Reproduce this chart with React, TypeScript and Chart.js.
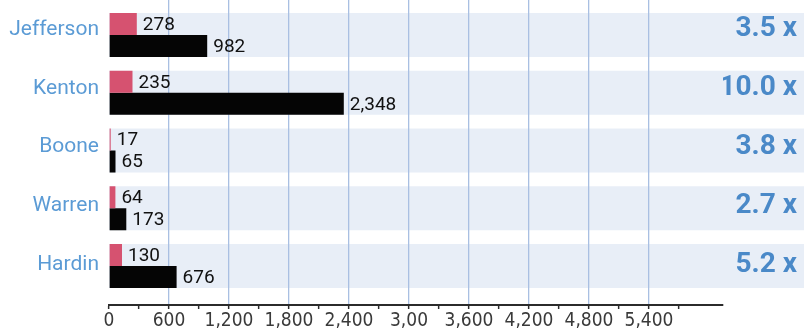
import { useEffect, useRef } from 'react';
import { Chart, registerables } from 'chart.js';

Chart.register(...registerables);

const counties = ['Jefferson', 'Kenton', 'Boone', 'Warren', 'Hardin'];
const pinkValues = [278, 235, 17, 64, 130];
const blackValues = [982, 2348, 65, 173, 676];
const ratioLabels = ['3.5 x', '10.0 x', '3.8 x', '2.7 x', '5.2 x'];
const xTickValues = [0, 600, 1200, 1800, 2400, 3000, 3600, 4200, 4800, 5400];
const xTickLabels = ['0', '600', '1,200', '1,800', '2,400', '3,00', '3,600', '4,200', '4,800', '5,400'];
const xMinorTickValues = [300, 900, 1500, 2100, 2700, 3300, 3900, 4500, 5100, 5700];
const xMax = 6140;

const PINK = '#d65270';
const BLACK = '#050505';
const BAND = '#e8eef7';
const GRID = '#a9bfe2';
const AXIS = '#2b2b2b';
const COUNTY_COLOR = '#5b9bd5';
const RATIO_COLOR = '#4a89c8';

const bandPlugin = {
  id: 'bands',
  beforeDraw(chart: any) {
    const { ctx } = chart;
    const m0 = chart.getDatasetMeta(0);
    const m1 = chart.getDatasetMeta(1);
    const left = chart.scales.x.left;
    ctx.save();
    ctx.fillStyle = BAND;
    m0.data.forEach((bar: any, i: number) => {
      const p0 = bar.getProps(['y', 'height'], true);
      const p1 = m1.data[i].getProps(['y', 'height'], true);
      const top = p0.y - p0.height / 2;
      const bottom = p1.y + p1.height / 2;
      ctx.fillRect(left, top, chart.width - left, bottom - top);
    });
    ctx.restore();
  },
};

const valueLabelPlugin = {
  id: 'valueLabels',
  afterDatasetsDraw(chart: any) {
    const { ctx } = chart;
    ctx.save();
    ctx.font = '19px Roboto, sans-serif';
    ctx.fillStyle = '#111111';
    ctx.textAlign = 'left';
    ctx.textBaseline = 'middle';
    chart.data.datasets.forEach((ds: any, di: number) => {
      const meta = chart.getDatasetMeta(di);
      meta.data.forEach((el: any, i: number) => {
        const p = el.getProps(['x', 'y'], true);
        const v = ds.data[i].x as number;
        ctx.fillText(v.toLocaleString('en-US'), p.x + 6, p.y + 1);
      });
    });
    ctx.restore();
  },
};

const indexTicks = (s: any) => {
  s.ticks = counties.map((_, i) => ({ value: i }));
};

const noPad = (s: any) => {
  s.paddingTop = 0;
  s.paddingBottom = 0;
  s.paddingLeft = 0;
  s.paddingRight = 0;
};

export default function App() {
  const ref = useRef<HTMLCanvasElement | null>(null);

  useEffect(() => {
    if (!ref.current) return;
    const chart = new Chart(ref.current, {
      type: 'bar',
      data: {
        datasets: [
          {
            label: 'Series A',
            data: pinkValues.map((v, i) => ({ x: v, y: i })),
            backgroundColor: PINK,
            yAxisID: 'y',
            categoryPercentage: 0.762,
            barPercentage: 1,
          },
          {
            label: 'Series B',
            data: blackValues.map((v, i) => ({ x: v, y: i })),
            backgroundColor: BLACK,
            yAxisID: 'y',
            categoryPercentage: 0.762,
            barPercentage: 1,
          },
        ],
      } as any,
      options: {
        indexAxis: 'y',
        animation: false,
        responsive: false,
        layout: { padding: { left: 0, right: 7, top: 0, bottom: 0 } },
        plugins: { legend: { display: false }, tooltip: { enabled: false } },
        scales: {
          x: {
            type: 'linear',
            position: 'bottom',
            min: 0,
            max: xMax,
            offset: false,
            afterBuildTicks: (s: any) => {
              s.ticks = [...xTickValues, ...xMinorTickValues]
                .sort((a, b) => a - b)
                .map((v) => ({ value: v }));
            },
            afterFit: (s: any) => {
              s.height = 26;
              noPad(s);
            },
            ticks: {
              autoSkip: false,
              maxRotation: 0,
              padding: 1,
              color: '#3a3a3a',
              font: { family: "'Liberation Sans Narrow', 'DejaVu Sans Condensed', sans-serif", size: 19 },
              callback: (v: any) => {
                const k = xTickValues.indexOf(Number(v));
                return k >= 0 ? xTickLabels[k] : '';
              },
            },
            grid: {
              color: (ctx: any) =>
                ctx.tick && ctx.tick.value > 0 && xTickValues.includes(ctx.tick.value) ? GRID : 'rgba(0,0,0,0)',
              lineWidth: 1.3,
              tickLength: 4,
              tickColor: AXIS,
              tickWidth: 1.5,
            },
            border: { display: true, color: AXIS, width: 2 },
          },
          y: {
            type: 'linear',
            display: false,
            offset: false,
            reverse: true,
            bounds: 'data',
            min: -0.606,
            max: 4.675,
            afterBuildTicks: indexTicks,
            afterFit: noPad,
          },
          yl: {
            type: 'linear',
            position: 'left',
            offset: false,
            reverse: true,
            bounds: 'data',
            min: -0.502,
            max: 4.689,
            afterBuildTicks: indexTicks,
            afterFit: (s: any) => {
              s.width = 109;
              noPad(s);
            },
            ticks: {
              padding: 10,
              color: COUNTY_COLOR,
              font: { family: 'Roboto, sans-serif', size: 21 },
              callback: (v: any) => counties[Number(v)],
            },
            grid: { display: false, drawTicks: false },
            border: { display: false },
          },
          y2: {
            type: 'linear',
            position: 'right',
            offset: false,
            reverse: true,
            bounds: 'data',
            min: -0.502,
            max: 4.689,
            afterBuildTicks: indexTicks,
            afterFit: (s: any) => {
              s.width = 74;
              noPad(s);
            },
            ticks: {
              padding: 0,
              crossAlign: 'far',
              color: RATIO_COLOR,
              font: { family: 'Roboto, sans-serif', size: 28, weight: 'bold' },
              callback: (v: any) => ratioLabels[Number(v)],
            },
            grid: { display: false, drawTicks: false },
            border: { display: false },
          },
        },
      } as any,
      plugins: [bandPlugin, valueLabelPlugin],
    });
    return () => chart.destroy();
  }, []);

  return (
    <div style={{ position: 'fixed', left: 0, top: 0, width: 804, height: 331, background: '#ffffff' }}>
      <canvas ref={ref} width={804} height={331} style={{ display: 'block', width: 804, height: 331 }} />
    </div>
  );
}
